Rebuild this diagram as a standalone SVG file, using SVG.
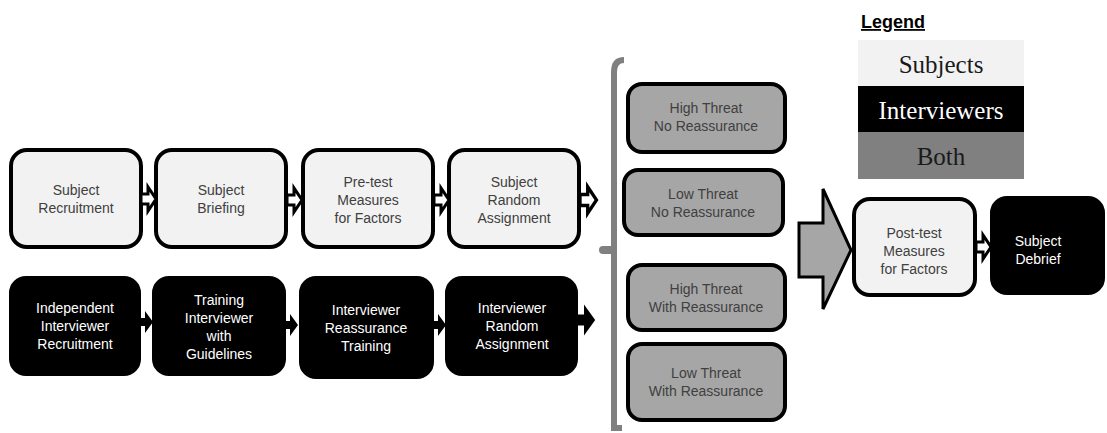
<svg xmlns="http://www.w3.org/2000/svg" width="1107" height="433" viewBox="0 0 1107 433">
  <style>
    .subj { fill: #f2f2f2; stroke: #000; stroke-width: 4; }
    .intv { fill: #000; stroke: #000; stroke-width: 2; }
    .both { fill: #a6a6a6; stroke: #000; stroke-width: 4; }
    .t { font-family: "Liberation Sans", Arial, sans-serif; font-size: 14px; text-anchor: middle; }
    .dark { fill: #404040; }
    .light { fill: #ffffff; }
    .lg { font-family: "Liberation Serif", "Times New Roman", serif; font-size: 25px; text-anchor: middle; }
    .warrow { fill: #ffffff; stroke: #000; stroke-width: 3; stroke-linejoin: miter; }
    .barrow { fill: #000; }
  </style>
  <defs>
    <path id="wa" d="M0,-5 L7,-5 L7,-12 L15,0 L7,12 L7,5 L0,5 Z"/>
    <path id="ba" d="M0,-4 L5,-4 L5,-11 L13,0 L5,11 L5,4 L0,4 Z"/>
  </defs>

  <rect width="1107" height="433" fill="#ffffff"/>

  <!-- Legend -->
  <g id="legend">
    <text x="893" y="28" font-family="'Liberation Sans', Arial, sans-serif" font-size="18" font-weight="bold" text-anchor="middle" fill="#000" text-decoration="underline">Legend</text>
    <rect x="858" y="40" width="166" height="46" fill="#f2f2f2"/>
    <rect x="858" y="86" width="166" height="46" fill="#000"/>
    <rect x="858" y="132" width="166" height="47" fill="#808080"/>
    <text class="lg" x="941" y="73" fill="#1a1a1a">Subjects</text>
    <text class="lg" x="941" y="119" fill="#ffffff">Interviewers</text>
    <text class="lg" x="941" y="165" fill="#1a1a1a">Both</text>
  </g>

  <!-- Subject track -->
  <g id="subject-recruitment">
    <rect class="subj" x="11" y="150" width="130" height="97" rx="16"/>
    <text class="t dark" x="76" y="195">Subject</text>
    <text class="t dark" x="76" y="213">Recruitment</text>
  </g>
  <g id="subject-briefing">
    <rect class="subj" x="156" y="150" width="130" height="97" rx="16"/>
    <text class="t dark" x="221" y="195">Subject</text>
    <text class="t dark" x="221" y="213">Briefing</text>
  </g>
  <g id="pretest-measures">
    <rect class="subj" x="303" y="150" width="130" height="97" rx="16"/>
    <text class="t dark" x="368" y="187">Pre-test</text>
    <text class="t dark" x="368" y="205">Measures</text>
    <text class="t dark" x="368" y="223">for Factors</text>
  </g>
  <g id="subject-random-assignment">
    <rect class="subj" x="449" y="150" width="130" height="97" rx="16"/>
    <text class="t dark" x="514" y="187">Subject</text>
    <text class="t dark" x="514" y="205">Random</text>
    <text class="t dark" x="514" y="223">Assignment</text>
  </g>

  <!-- Interviewer track -->
  <g id="independent-interviewer-recruitment">
    <rect class="intv" x="10" y="277" width="130" height="98" rx="16"/>
    <text class="t light" x="75" y="313">Independent</text>
    <text class="t light" x="75" y="331">Interviewer</text>
    <text class="t light" x="75" y="349">Recruitment</text>
  </g>
  <g id="training-interviewer">
    <rect class="intv" x="153" y="277" width="132" height="98" rx="16"/>
    <text class="t light" x="219" y="305">Training</text>
    <text class="t light" x="219" y="323">Interviewer</text>
    <text class="t light" x="219" y="341">with</text>
    <text class="t light" x="219" y="359">Guidelines</text>
  </g>
  <g id="interviewer-reassurance-training">
    <rect class="intv" x="300" y="277" width="133" height="101" rx="16"/>
    <text class="t light" x="366" y="315">Interviewer</text>
    <text class="t light" x="366" y="333">Reassurance</text>
    <text class="t light" x="366" y="351">Training</text>
  </g>
  <g id="interviewer-random-assignment">
    <rect class="intv" x="446" y="277" width="131" height="98" rx="16"/>
    <text class="t light" x="512" y="313">Interviewer</text>
    <text class="t light" x="512" y="331">Random</text>
    <text class="t light" x="512" y="349">Assignment</text>
  </g>

  <!-- Conditions -->
  <g id="high-threat-no-reassurance">
    <rect class="both" x="628" y="84" width="157" height="68" rx="14"/>
    <text class="t dark" x="706" y="113">High Threat</text>
    <text class="t dark" x="706" y="131">No Reassurance</text>
  </g>
  <g id="low-threat-no-reassurance">
    <rect class="both" x="624" y="170" width="159" height="65" rx="14"/>
    <text class="t dark" x="703" y="199">Low Threat</text>
    <text class="t dark" x="703" y="217">No Reassurance</text>
  </g>
  <g id="high-threat-with-reassurance">
    <rect class="both" x="628" y="265" width="157" height="65" rx="14"/>
    <text class="t dark" x="706" y="294">High Threat</text>
    <text class="t dark" x="706" y="312">With Reassurance</text>
  </g>
  <g id="low-threat-with-reassurance">
    <rect class="both" x="628" y="344" width="157" height="76" rx="14"/>
    <text class="t dark" x="706" y="378">Low Threat</text>
    <text class="t dark" x="706" y="396">With Reassurance</text>
  </g>

  <!-- Post-test and debrief -->
  <g id="posttest-measures">
    <rect class="subj" x="854" y="199" width="121" height="96" rx="16"/>
    <text class="t dark" x="914" y="238">Post-test</text>
    <text class="t dark" x="914" y="256">Measures</text>
    <text class="t dark" x="914" y="274">for Factors</text>
  </g>
  <g id="subject-debrief">
    <rect class="intv" x="991" y="197" width="113" height="97" rx="16"/>
    <text class="t light" x="1038" y="246">Subject</text>
    <text class="t light" x="1038" y="264">Debrief</text>
  </g>

  <!-- Connectors -->
  <g id="connectors">
    <use href="#wa" class="warrow" transform="translate(141,199)"/>
    <use href="#wa" class="warrow" transform="translate(287,200)"/>
    <use href="#wa" class="warrow" transform="translate(434,200)"/>
    <use href="#wa" class="warrow" transform="translate(580,200) scale(1.1)"/>
    <use href="#ba" class="barrow" transform="translate(140,322)"/>
    <use href="#ba" class="barrow" transform="translate(285,325)"/>
    <use href="#ba" class="barrow" transform="translate(433,325)"/>
    <use href="#ba" class="barrow" transform="translate(577,320) scale(1.4)"/>
    <!-- brace grouping the four conditions -->
    <path d="M624,60 Q614,60 614,72 L614,428 L622,428" fill="none" stroke="#808080" stroke-width="6"/>
    <line x1="603" y1="250" x2="612" y2="250" stroke="#808080" stroke-width="8" stroke-linecap="round"/>
    <!-- merge arrow -->
    <path d="M799,223 L823,223 L823,189 L851,250 L823,309 L823,277 L799,277 Z" fill="#a6a6a6" stroke="#000" stroke-width="3"/>
    <use href="#wa" class="warrow" transform="translate(976,247)"/>
  </g>
</svg>
